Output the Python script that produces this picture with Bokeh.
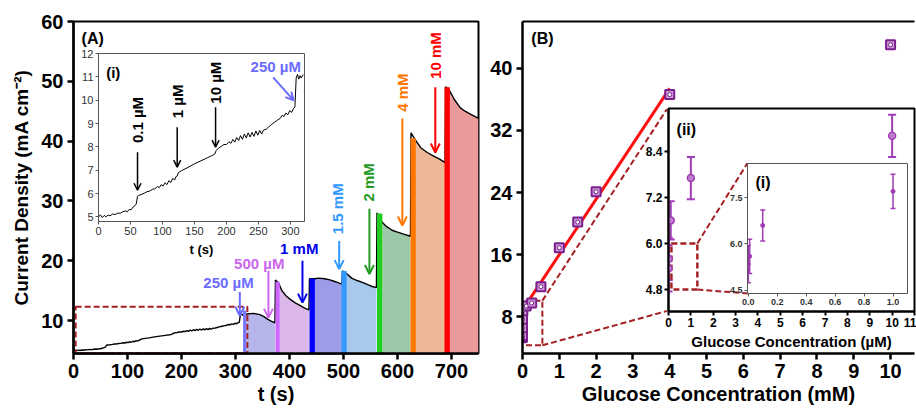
import numpy as np
from bokeh.plotting import figure
from bokeh.models import (GridBox, Range1d, FixedTicker, NumeralTickFormatter, Label, Arrow,
                          OpenHead, Whisker, TeeHead, ColumnDataSource, LinearAxis)
from bokeh.embed import file_html
from bokeh.resources import INLINE

FONT = "Liberation Sans"

# ---------------- Panel A : amperometric trace ----------------
trace_t = [0, 3, 6, 9, 12, 15, 18, 22, 26, 30, 34, 38, 42, 45, 48, 51, 54, 57, 59, 61, 63, 68,
           72, 76, 80, 84, 88, 92, 95, 98, 101, 104, 107, 110, 113, 116, 119, 121, 123, 125, 130,
           140, 150, 160, 170, 178, 182, 184, 188, 192, 196, 200, 204, 207, 210, 213, 216, 219,
           222, 225, 228, 231, 234, 237, 240, 243, 246, 249, 252, 255, 258, 262, 266, 270, 275,
           280, 284, 287, 290, 293, 296, 299, 302, 305, 307, 309, 311, 313, 315, 317, 320,
           334, 345, 352, 360, 366, 373, 374, 380, 382, 386, 394, 402, 410, 420, 428, 436,
           437, 446, 455, 465, 475, 485, 497, 498, 505, 515, 525, 535, 545, 553, 561,
           562, 572, 580, 590, 600, 610, 624, 625, 633, 643, 655, 667, 678, 688,
           689, 696, 705, 716, 725, 735, 750]
trace_j = [5.0, 5.08, 4.97, 5.06, 5.0, 5.08, 5.04, 5.12, 5.1, 5.16, 5.15, 5.22, 5.25, 5.22, 5.32,
           5.3, 5.42, 5.48, 5.55, 5.88, 5.92, 5.97,
           6.02, 6.08, 6.1, 6.18, 6.2, 6.3, 6.25, 6.38, 6.32, 6.46, 6.38, 6.55, 6.47, 6.65, 6.58,
           6.72, 6.75, 6.9, 6.98,
           7.12, 7.27, 7.4, 7.53, 7.63, 7.7, 7.85, 7.95, 8.02, 8.1, 8.1, 8.22, 8.15, 8.32, 8.2,
           8.4, 8.27, 8.48, 8.32, 8.55, 8.38, 8.6, 8.42, 8.62, 8.45, 8.68, 8.5, 8.7, 8.55, 8.72,
           8.75, 8.85, 8.95, 9.05, 9.15, 9.22, 9.35, 9.3, 9.45, 9.38, 9.55, 9.48, 9.65, 9.7,
           10.95, 11.1, 10.9, 11.05, 10.95, 11.1,
           11.2, 11.0, 10.7, 10.2, 9.9, 9.6, 16.8, 16.3, 15.8, 15.0, 14.1, 13.5, 13.0, 12.5, 12.1, 11.8,
           17.0, 17.0, 17.1, 17.0, 16.8, 16.5, 16.1, 18.3, 17.9, 17.1, 16.7, 16.4, 16.0, 15.7, 15.5,
           28.0, 26.4, 25.7, 25.1, 24.8, 24.5, 24.1, 41.4, 40.2, 38.9, 38.1, 37.5, 37.0, 36.4,
           49.1, 48.5, 47.0, 45.6, 45.0, 44.5, 43.8]

step_names = ["250 µM", "500 µM", "1 mM", "1.5 mM", "2 mM", "4 mM", "10 mM"]
step_t = [317, 378, 442, 501, 567, 629, 692]
step_peak = [11.7, 16.5, 17.0, 18.3, 27.9, 40.5, 49.0]
fill_start = [320, 382, 446, 505, 572, 633, 696]
fill_end = [373, 436, 497, 561, 624, 688, 750]

low_names = ["0.1 µM", "1 µM", "10 µM"]
low_t = [61, 123, 183]

# ---------------- Panel B : calibration ----------------
conc_uM = [0.001, 0.01, 0.1, 1.0, 10.0]
cur_uM = [5.35, 5.6, 6.6, 7.7, 8.8]
err_uM = [0.6, 0.55, 0.5, 0.55, 0.55]

conc_mM = [0.1, 0.25, 0.5, 1.0, 1.5, 2.0, 4.0, 10.0]
cur_mM = [9.4, 9.8, 11.9, 16.9, 20.2, 24.1, 36.6, 43.0]
err_mM = [0.35, 0.35, 0.4, 0.4, 0.4, 0.4, 0.45, 0.4]

# ---------------- styling constants ----------------
A_YMIN = 4.5
bar_widths = [6, 8, 10, 10, 10, 10, 10]
fill_colors = ["#b6b6ea", "#dcb8ea", "#9c9ce8", "#a9c9ec", "#9ccaa8", "#ecb898", "#ea9a9a"]
bar_colors = ["#7777ff", "#cc66ff", "#0000ff", "#3399ff", "#22cc22", "#ff7700", "#ff0000"]
lab_colors = ["#6b6bff", "#cc66ee", "#0000ee", "#3399ff", "#229922", "#ff7700", "#ff0000"]
# label (t, j, angle) and arrow (t, j_from, j_to) for each step
lab_pos = [(287, 16.3, 0), (344, 19.5, 0), (418, 22.0, 0), (489, 28.7, 90), (547, 33.1, 90),
           (609, 48.1, 90), (670, 54.3, 90)]
arr_pos = [(308, 14.8, 10.8), (361, 18.3, 10.5), (424, 20.0, 13.0), (492, 23.3, 18.6),
           (548, 28.7, 17.8), (609, 43.8, 25.9), (670, 49.0, 38.1)]
low_lab_j = [9.15, 9.95, 10.75]
low_arr = [(7.77, 6.14), (8.84, 7.13), (9.7, 7.99)]
DASH_C = "#a52025"
PURPLE = "#7b1f8f"


def style_axis(ax, size, bold=True, color="black", lw=2, tick_out=6, lab_color="black", standoff=4):
    ax.axis_line_width = lw
    ax.axis_line_color = color
    ax.major_tick_line_width = lw
    ax.major_tick_line_color = color
    ax.major_tick_out = tick_out
    ax.major_tick_in = 0
    ax.minor_tick_line_color = None
    ax.major_label_text_font = FONT
    ax.major_label_text_font_size = size
    ax.major_label_text_font_style = "bold" if bold else "normal"
    ax.major_label_text_color = lab_color
    ax.major_label_standoff = standoff
    ax.axis_label_text_font = FONT
    ax.axis_label_text_font_style = "bold"
    ax.axis_label_text_color = "black"


def base_fig(w, h, xr, yr, ml, mr, mt, mb, transparent=False):
    f = figure(width=w, height=h, x_range=Range1d(*xr), y_range=Range1d(*yr),
               output_backend="svg", toolbar_location=None,
               min_border_left=ml, min_border_right=mr, min_border_top=mt, min_border_bottom=mb)
    f.xgrid.visible = False
    f.ygrid.visible = False
    f.background_fill_color = "white"
    f.border_fill_color = None if transparent else "white"
    return f


def txt(f, x, y, s, size, color="black", angle=0, align="center", bold=True):
    f.add_layout(Label(x=x, y=y, text=s, text_font=FONT, text_font_size=size,
                       text_font_style="bold" if bold else "normal", text_color=color,
                       text_align=align, text_baseline="middle", angle=np.deg2rad(angle)))


def arrow(f, x0, y0, x1, y1, color, size=9, lw=2):
    f.add_layout(Arrow(end=OpenHead(size=size, line_color=color, line_width=lw),
                       x_start=x0, y_start=y0, x_end=x1, y_end=y1,
                       line_color=color, line_width=lw))


tt = np.array(trace_t, dtype=float)
jj = np.array(trace_j, dtype=float)

# ================= main panel A =================
pA = base_fig(482, 410, (0, 750), (A_YMIN, 60), 73, 4, 21, 57)
pA.outline_line_color = "black"
pA.outline_line_width = 2
for k in range(len(step_names)):
    m = (tt >= fill_start[k]) & (tt <= fill_end[k])
    pA.varea(x=tt[m], y1=A_YMIN, y2=jj[m], fill_color=fill_colors[k], fill_alpha=1.0)
pA.line(tt, jj, line_color="black", line_width=1.4)
pA.vbar(x=step_t, width=bar_widths, bottom=A_YMIN, top=step_peak, fill_color=bar_colors,
        line_color=None)
pA.quad(left=[4], right=[322], bottom=[4.6], top=[12.3], fill_color=None, line_color=DASH_C,
        line_width=2, line_dash="6 3")
for k in range(len(step_names)):
    lx, ly, ang = lab_pos[k]
    txt(pA, lx, ly, step_names[k], "15px", lab_colors[k], angle=ang)
    ax_, y0, y1 = arr_pos[k]
    arrow(pA, ax_, y0, ax_, y1, lab_colors[k])
txt(pA, 15, 57.2, "(A)", "16px", align="left")
pA.xaxis.ticker = FixedTicker(ticks=list(range(0, 701, 100)))
pA.yaxis.ticker = FixedTicker(ticks=[10, 20, 30, 40, 50, 60])
for ax in pA.xaxis + pA.yaxis:
    style_axis(ax, "20px", lw=2.5)
pA.xaxis.axis_label = "t (s)"
pA.xaxis.axis_label_text_font_size = "20px"
pA.xaxis.axis_label_standoff = 2
pA.yaxis.axis_label = "Current Density (mA cm⁻²)"
pA.yaxis.axis_label_text_font_size = "19px"
pA.yaxis.axis_label_standoff = 6

# ================= inset of panel A =================
pIA = base_fig(234, 214, (0, 322), (4.8, 12), 20, 8, 5, 41, transparent=True)
pIA.outline_line_color = "#555555"
pIA.outline_line_width = 1
mi = tt <= 322
pIA.line(tt[mi], jj[mi], line_color="black", line_width=1)
for k in range(3):
    txt(pIA, low_t[k], low_lab_j[k], low_names[k], "15px", angle=90)
    arrow(pIA, low_t[k], low_arr[k][0], low_t[k], low_arr[k][1], "black", size=7, lw=1.5)
txt(pIA, 277, 11.45, "250 µM", "15px", lab_colors[0])
arrow(pIA, 273, 10.98, 305, 9.99, lab_colors[0], size=8, lw=2)
txt(pIA, 23, 11.2, "(i)", "15px")
pIA.xaxis.ticker = FixedTicker(ticks=list(range(0, 301, 50)))
pIA.yaxis.ticker = FixedTicker(ticks=list(range(5, 13)))
for ax in pIA.xaxis + pIA.yaxis:
    style_axis(ax, "11px", bold=False, color="#555555", lw=1, tick_out=3, lab_color="#333333",
               standoff=2)
pIA.xaxis.axis_label = "t (s)"
pIA.xaxis.axis_label_text_font_size = "13px"
pIA.xaxis.axis_label_standoff = 4

# ================= main panel B =================
pB = base_fig(434, 410, (0, 10.65), (3.3, 46), 40, 0, 18, 55)
pB.outline_line_color = None
cm = np.array(conc_mM)
cu = np.array(cur_mM)
lin = cm <= 4.0
slope, icpt = np.polyfit(cm[lin], cu[lin], 1)
fx = np.array([cm[lin].min(), cm[lin].max()])
pB.line(fx, slope * fx + icpt, line_color="#ff1010", line_width=3)
# zoom indicator
pB.quad(left=[0.08], right=[0.54], bottom=[4.35], top=[10.1], fill_color=None,
        line_color=DASH_C, line_width=2, line_dash="6 3")
pB.segment(x0=[0.54, 0.54], y0=[10.1, 4.35], x1=[3.92, 3.92], y1=[34.7, 8.76],
           line_color=DASH_C, line_width=2, line_dash="6 3")
allx = np.concatenate([np.array(conc_uM) / 1000.0, cm])
ally = np.concatenate([np.array(cur_uM), cu])
alle = np.concatenate([np.array(err_uM), np.array(err_mM)])
srcB = ColumnDataSource(dict(x=allx, y=ally, lo=ally - alle, hi=ally + alle))
pB.add_layout(Whisker(source=srcB, base="x", upper="hi", lower="lo", line_color=PURPLE,
                      line_width=2,
                      upper_head=TeeHead(size=8, line_color=PURPLE, line_width=2),
                      lower_head=TeeHead(size=8, line_color=PURPLE, line_width=2)))
pB.scatter("x", "y", source=srcB, marker="square", size=9, fill_color="#c99ad3",
           line_color=PURPLE, line_width=2)
pB.scatter("x", "y", source=srcB, marker="circle", size=4, fill_color="white",
           line_color=PURPLE, line_width=1)
txt(pB, 0.24, 43.8, "(B)", "16px", align="left")
pB.xaxis.ticker = FixedTicker(ticks=list(range(0, 11)))
pB.yaxis.ticker = FixedTicker(ticks=[8, 16, 24, 32, 40])
for ax in pB.xaxis + pB.yaxis:
    style_axis(ax, "20px", lw=2.5)
pB.xaxis.axis_label = "Glucose Concentration (mM)"
pB.xaxis.axis_label_text_font_size = "20px"
pB.xaxis.axis_label_standoff = 2
top_ax = LinearAxis(ticker=FixedTicker(ticks=[]), major_tick_line_color=None,
                    minor_tick_line_color=None, axis_line_width=2, axis_line_color="black")
pB.add_layout(top_ax, "above")

# ================= inset (ii) of panel B =================
pII = base_fig(288, 252, (0, 11), (4.23, 9.51), 40, 2, 8, 40, transparent=True)
pII.outline_line_color = "black"
pII.outline_line_width = 2
src2 = ColumnDataSource(dict(x=conc_uM, y=cur_uM,
                             lo=np.array(cur_uM) - np.array(err_uM),
                             hi=np.array(cur_uM) + np.array(err_uM)))
IIC = "#a03cb4"
pII.quad(left=[0.13], right=[1.29], bottom=[4.8], top=[6.0], fill_color=None,
         line_color=DASH_C, line_width=2.5, line_dash="6 3")
pII.segment(x0=[1.29, 1.29], y0=[6.0, 4.8], x1=[3.53, 3.53], y1=[8.09, 4.7],
            line_color=DASH_C, line_width=2, line_dash="6 3")
pII.add_layout(Whisker(source=src2, base="x", upper="hi", lower="lo", line_color=IIC,
                       line_width=2,
                       upper_head=TeeHead(size=8, line_color=IIC, line_width=2),
                       lower_head=TeeHead(size=8, line_color=IIC, line_width=2)))
pII.scatter("x", "y", source=src2, marker="circle", size=7, fill_color="#c27fd0",
            line_color=IIC, line_width=1.5)
txt(pII, 0.36, 8.97, "(ii)", "16px", align="left")
pII.xaxis.ticker = FixedTicker(ticks=list(range(0, 12)))
pII.yaxis.ticker = FixedTicker(ticks=[4.8, 6.0, 7.2, 8.4])
pII.yaxis.formatter = NumeralTickFormatter(format="0.0")
for ax in pII.xaxis + pII.yaxis:
    style_axis(ax, "12px", lw=2, tick_out=4, standoff=2)
pII.xaxis.axis_label = "Glucose Concentration (µM)"
pII.xaxis.axis_label_text_font_size = "15px"
pII.xaxis.axis_label_standoff = 3

# ================= inset (i) of panel B =================
pI = base_fig(190, 153, (-0.005, 1.1), (4.4, 8.6), 25, 5, 6, 17, transparent=True)
pI.outline_line_color = "#555555"
pI.outline_line_width = 1
pI.add_layout(Whisker(source=src2, base="x", upper="hi", lower="lo", line_color=IIC,
                      line_width=1.5,
                      upper_head=TeeHead(size=5, line_color=IIC, line_width=1.5),
                      lower_head=TeeHead(size=5, line_color=IIC, line_width=1.5)))
pI.scatter("x", "y", source=src2, marker="circle", size=4, fill_color=IIC, line_color=IIC)
txt(pI, 0.05, 8.0, "(i)", "16px", align="left")
pI.xaxis.ticker = FixedTicker(ticks=[0.0, 0.2, 0.4, 0.6, 0.8, 1.0])
pI.yaxis.ticker = FixedTicker(ticks=[4.5, 6.0, 7.5])
pI.xaxis.formatter = NumeralTickFormatter(format="0.0")
pI.yaxis.formatter = NumeralTickFormatter(format="0.0")
for ax in pI.xaxis + pI.yaxis:
    style_axis(ax, "9px", color="#555555", lw=1, tick_out=3, lab_color="#333333", standoff=2)

grid = GridBox(children=[(pA, 0, 0, 7, 3), (pB, 0, 3, 7, 4), (pIA, 1, 1, 3, 1),
                         (pII, 2, 4, 4, 3), (pI, 3, 5, 2, 1)],
               rows=["48px", "52px", "57px", "105px", "48px", "42px", "58px"],
               cols=["78px", "234px", "170px", "146px", "94px", "190px", "4px"],
               spacing=0)

open("out.html", "w").write(file_html(grid, INLINE))
